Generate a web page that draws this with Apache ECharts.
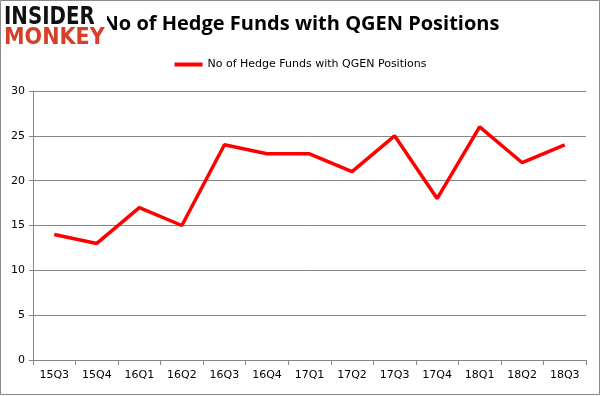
<!DOCTYPE html>
<html>
<head>
<meta charset="utf-8">
<script src="https://cdn.jsdelivr.net/npm/echarts@6/dist/echarts.min.js"></script>
<style>
  html, body { margin: 0; padding: 0; background: #fff; }
  #chart { width: 601px; height: 396px; }
</style>
</head>
<body>
<div id="chart"></div>
<script>
// 数据
const categories = ['15Q3', '15Q4', '16Q1', '16Q2', '16Q3', '16Q4', '17Q1', '17Q2', '17Q3', '17Q4', '18Q1', '18Q2', '18Q3'];
const fundCounts = [14, 13, 17, 15, 24, 23, 23, 21, 25, 18, 26, 22, 24];
const yTicks = [0, 5, 10, 15, 20, 25, 30];
const seriesName = 'No of Hedge Funds with QGEN Positions';

const myChart = echarts.init(document.getElementById('chart'));
const axisGray = '#868686';

const option = {
    animation: false,
    backgroundColor: '#fff',
    title: {
        text: seriesName,
        left: 296,
        top: 9,
        textAlign: 'center',
        textStyle: { fontFamily: 'Open Sans', fontWeight: 'bold', fontSize: 20, color: '#000' }
    },
    legend: {
        data: [seriesName],
        top: 54,
        left: 'center',
        itemWidth: 28,
        itemHeight: 4,
        icon: 'rect',
        textStyle: { fontFamily: 'DejaVu Sans', fontSize: 11, color: '#000' }
    },
    grid: { left: 33, right: 15, top: 91, bottom: 36, containLabel: false },
    xAxis: {
        type: 'category',
        data: categories,
        boundaryGap: true,
        axisLine: { lineStyle: { color: axisGray } },
        axisTick: { show: true, length: 5, lineStyle: { color: axisGray } },
        axisLabel: { color: '#000', fontFamily: 'DejaVu Sans', fontSize: 11, margin: 10 }
    },
    yAxis: {
        type: 'value',
        min: yTicks[0],
        max: yTicks[yTicks.length - 1],
        interval: yTicks[1] - yTicks[0],
        axisLine: { show: true, lineStyle: { color: axisGray } },
        axisTick: { show: true, length: 4, lineStyle: { color: axisGray } },
        axisLabel: { color: '#000', fontFamily: 'DejaVu Sans', fontSize: 11, margin: 8 },
        splitLine: { lineStyle: { color: axisGray } }
    },
    series: [{
        name: seriesName,
        type: 'line',
        data: fundCounts,
        showSymbol: false,
        symbol: 'none',
        color: '#ff0000',
        lineStyle: { color: '#ff0000', width: 3.5 }
    }],
    graphic: [
        {   // 外框
            type: 'rect',
            shape: { x: 0.5, y: 0.5, width: 599, height: 394 },
            style: { fill: 'none', stroke: '#8a8a8a', lineWidth: 1 },
            z: 0
        },
        {   // logo
            type: 'rect',
            shape: { x: 3, y: 6, width: 104, height: 44 },
            style: { fill: '#fff' },
            z: 9
        },
        {
            type: 'text',
            x: 4, y: 5,
            scaleY: 1.15,
            style: { text: 'INSIDER', fill: '#111', font: 'bold 22px "DejaVu Sans Condensed"' },
            z: 10
        },
        {
            type: 'text',
            x: 4, y: 27,
            style: { text: 'MONKEY', fill: '#d6402b', font: 'bold 23px "DejaVu Sans Condensed"' },
            z: 10
        }
    ]
};
myChart.setOption(option);
</script>
</body>
</html>
